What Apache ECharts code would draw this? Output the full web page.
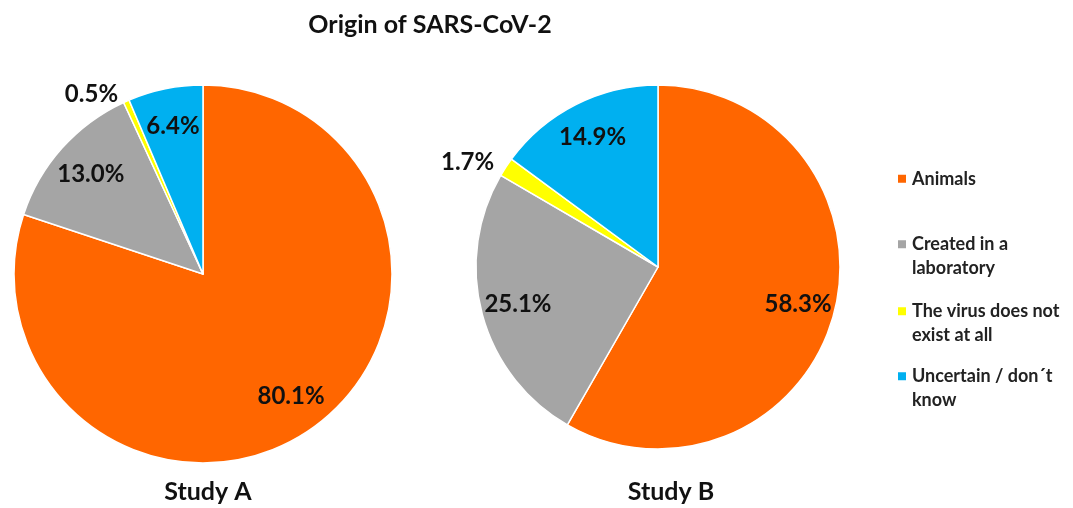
<!DOCTYPE html>
<html>
<head>
<meta charset="utf-8">
<script src="https://cdn.jsdelivr.net/npm/echarts@6/dist/echarts.min.js"></script>
<style>
  html, body { margin: 0; padding: 0; background: #fff; }
  #chart { width: 1073px; height: 508px; }
</style>
</head>
<body>
<div id="chart"></div>
<script>
let chart = document.getElementById('chart');

var categories = ['Animals', 'Created in a laboratory', 'The virus does not exist at all', 'Uncertain / don´t know'];
var legendLabels = ['Animals', 'Created in a\nlaboratory', 'The virus does not\nexist at all', 'Uncertain / don´t\nknow'];
var studyNames = ['Study A', 'Study B'];
var studyA = [80.1, 13.0, 0.5, 6.4];
var studyB = [58.3, 25.1, 1.7, 14.9];
var colors = ['#FF6600', '#A5A5A5', '#FFFF00', '#00B0F0'];

var font = 'Lato, "Open Sans", sans-serif';
var lineH = 23.5;

function pieData(values, overlay) {
    return values.map(function (v, i) {
        var item = { name: categories[i], value: v };
        if (overlay) {
            item.itemStyle = { color: 'transparent', borderWidth: 0 };
            if (v < 3) {
                item.label = { position: 'outside' };
                item.labelLine = { show: false, length: 8, length2: 0 };
            }
        }
        return item;
    });
}

function pies(values, center, r) {
    return [{
        type: 'pie',
        center: center,
        radius: [0, r],
        startAngle: 90,
        clockwise: true,
        label: { show: false },
        labelLine: { show: false },
        itemStyle: { borderColor: '#fff', borderWidth: 1.5 },
        emphasis: { scale: false },
        data: pieData(values, false)
    }, {
        // transparent ring only used to put the labels further out
        type: 'pie',
        center: center,
        radius: [r * 0.56, r],
        startAngle: 90,
        clockwise: true,
        silent: true,
        emphasis: { disabled: true },
        label: {
            show: true,
            position: 'inside',
            color: '#111',
            fontFamily: font,
            fontWeight: 'bold',
            fontSize: 24,
            formatter: function (p) { return p.value.toFixed(1) + '%'; }
        },
        labelLine: { show: false },
        data: pieData(values, true)
    }];
}

var legendTops = [167, 209, 276, 341];

option = {
    animation: false,
    color: colors,
    title: [{
        text: 'Origin of SARS-CoV-2',
        left: 430,
        top: 12,
        textAlign: 'center',
        padding: 0,
        textStyle: { color: '#111', fontFamily: font, fontWeight: 'bold', fontSize: 25 }
    }, {
        text: studyNames[0],
        left: 208,
        top: 479,
        textAlign: 'center',
        padding: 0,
        textStyle: { color: '#111', fontFamily: font, fontWeight: 'bold', fontSize: 25 }
    }, {
        text: studyNames[1],
        left: 671,
        top: 479,
        textAlign: 'center',
        padding: 0,
        textStyle: { color: '#111', fontFamily: font, fontWeight: 'bold', fontSize: 25 }
    }],
    legend: categories.map(function (name, i) {
        return {
            orient: 'vertical',
            left: 896,
            top: legendTops[i],
            padding: 0,
            itemWidth: 10,
            itemHeight: 10,
            itemGap: 0,
            icon: 'rect',
            selectedMode: false,
            // empty first line keeps the marker level with the first text line
            formatter: function () { return i ? '\n' + legendLabels[i] : legendLabels[i]; },
            textStyle: {
                color: '#222',
                fontFamily: font,
                fontWeight: 'bold',
                fontSize: 18,
                lineHeight: lineH
            },
            data: [name]
        };
    }),
    series: pies(studyA, [203, 274], 189).concat(pies(studyB, [658, 267], 182))
};

echarts.init(chart).setOption(option, true);
</script>
</body>
</html>
